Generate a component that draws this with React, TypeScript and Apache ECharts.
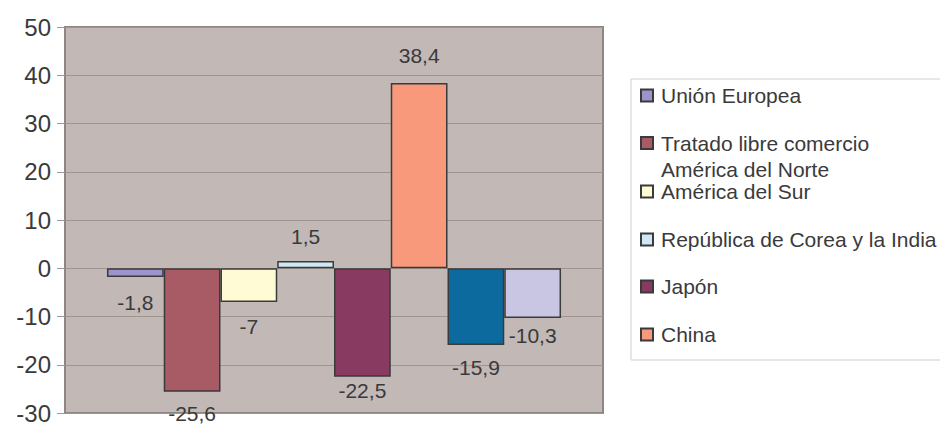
import React, { useEffect, useRef } from "react";
import * as echarts from "echarts";

const seriesNames = [
  "Unión Europea",
  "Tratado libre comercio América del Norte",
  "América del Sur",
  "República de Corea y la India",
  "Japón",
  "China",
  "Serie 7",
  "Serie 8",
];
const values = [-1.8, -25.6, -7, 1.5, -22.5, 38.4, -15.9, -10.3];
const legendNames = seriesNames.slice(0, 6);
const colors = ["#9c94cc", "#a85b65", "#fffbd5", "#cce9f5", "#883a60", "#f7997a", "#0d6a9e", "#c8c6e2"];
const labelDistances = [15, 11, 14, 14, 3, 17, 12, 7];
const legendTops = [85, 106, 181, 229, 276, 324];

export default function App() {
  const ref = useRef<HTMLDivElement>(null);
  useEffect(() => {
    if (!ref.current) return;
    const chart = echarts.init(ref.current, null, { renderer: "svg" });
    const font = "Liberation Sans, Arial, sans-serif";
    const series = seriesNames.map((name, i) => ({
      name,
      type: "bar",
      data: [values[i]],
      barGap: "0%",
      barCategoryGap: "15.6%",
      itemStyle: { color: colors[i], borderColor: "#3a3a3a", borderWidth: 1.5 },
      label: {
        show: true,
        position: values[i] < 0 ? "bottom" : "top",
        distance: labelDistances[i],
        fontFamily: font,
        fontSize: 21,
        color: "#3a3a3a",
        formatter: (p: any) => String(p.value).replace(".", ","),
      },
    }));
    const legends = legendNames.map((name, i) => ({
      show: true,
      data: [name],
      left: 640,
      top: legendTops[i],
      orient: "vertical",
      itemWidth: 12,
      itemHeight: 12,
      itemGap: 0,
      padding: 0,
      icon: "rect",
      selectedMode: false,
      formatter: (n: string) =>
        n === "Tratado libre comercio América del Norte"
          ? "{s| }\n{a|Tratado libre comercio}\n{a|América del Norte}"
          : n,
      textStyle: {
        fontFamily: font,
        fontSize: 21,
        color: "#3a3a3a",
        padding: [0, 0, 0, 3],
        rich: {
          s: { fontSize: 21, lineHeight: 26.5, fontFamily: font },
          a: { fontSize: 21, lineHeight: 26.5, fontFamily: font, color: "#3a3a3a" },
        },
      },
    }));
    chart.setOption({
      animation: false,
      grid: {
        left: 65,
        right: 337,
        top: 27,
        bottom: 10,
        show: true,
        backgroundColor: "#c2b8b5",
        borderColor: "#8f8583",
        borderWidth: 2,
      },
      xAxis: {
        type: "category",
        data: [""],
        axisLine: { show: false },
        axisTick: { show: false },
        axisLabel: { show: false },
      },
      yAxis: {
        type: "value",
        min: -30,
        max: 50,
        interval: 10,
        axisLine: { show: true, lineStyle: { color: "#8f8583", width: 2 } },
        axisTick: { show: true, length: 8, lineStyle: { color: "#9a9a9a" } },
        axisLabel: { fontFamily: font, fontSize: 24, color: "#3a3a3a", margin: 14 },
        splitLine: { show: true, lineStyle: { color: "#a0948f", width: 1 } },
      },
      legend: legends,
      graphic: [
        {
          type: "rect",
          shape: { x: 631, y: 79, width: 320, height: 281 },
          style: { fill: "#ffffff", stroke: "#cfcfcf", lineWidth: 1 },
          z: -1,
          silent: true,
        },
      ],
      series,
    });
    return () => chart.dispose();
  }, []);
  return <div ref={ref} style={{ position: "fixed", left: 0, top: 0, width: 940, height: 425, background: "#fff" }} />;
}
